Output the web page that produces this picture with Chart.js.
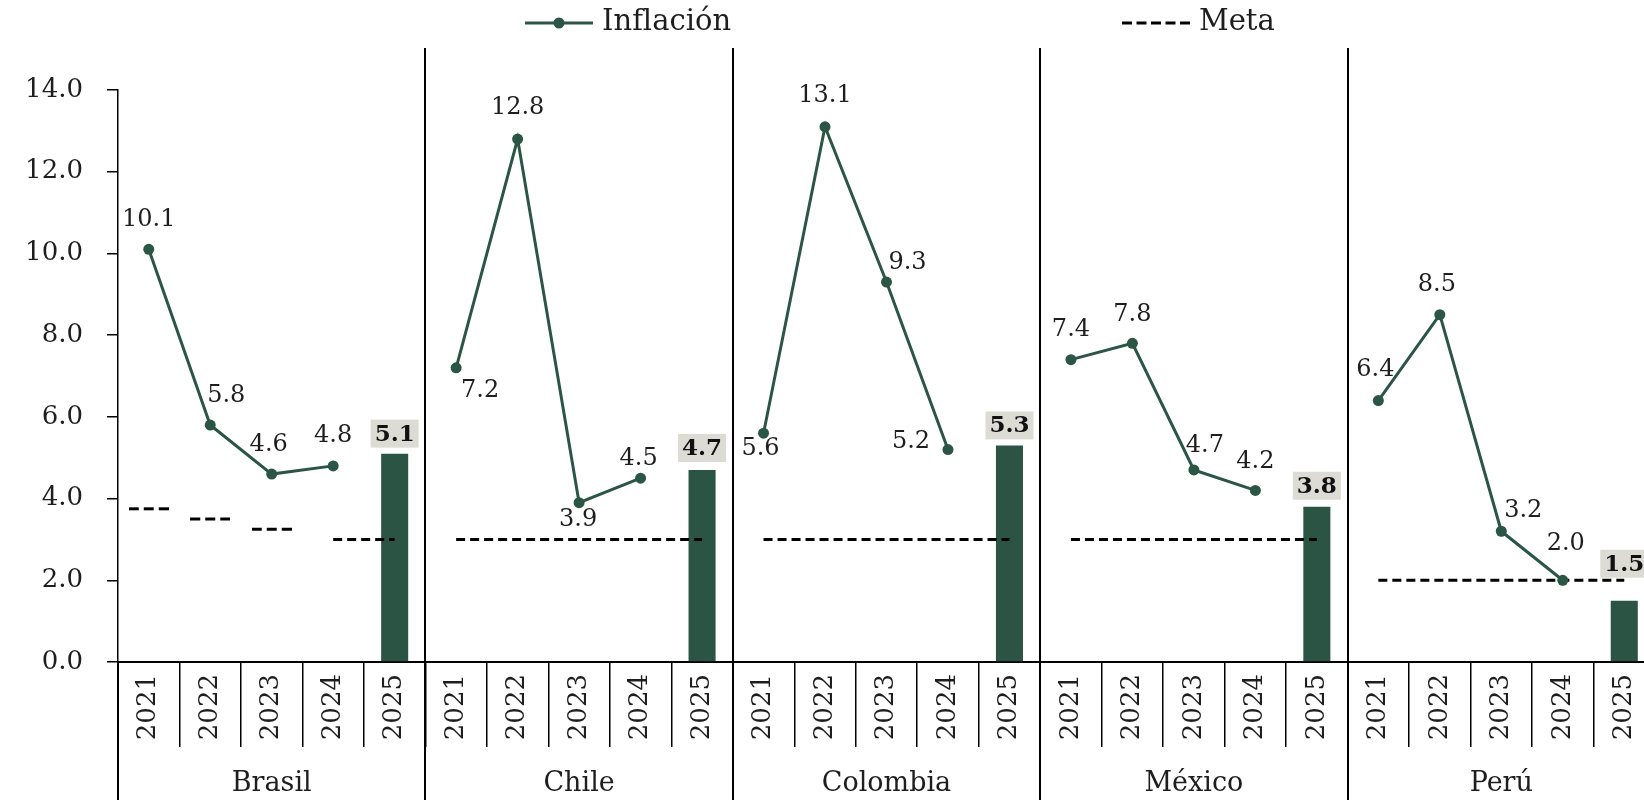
<!DOCTYPE html>
<html lang="es">
<head>
<meta charset="UTF-8">
<title>Inflación y meta 2021-2025</title>
<script src="https://cdn.jsdelivr.net/npm/chart.js@4.4.0/dist/chart.umd.min.js"></script>
<style>
    html, body { margin: 0; padding: 0; overflow: hidden; background: #fff; }
    #wrap { position: relative; width: 1644px; height: 800px; overflow: hidden; }
    #chart { position: absolute; left: 0; top: 0; display: block; width: 1678px; height: 800px; }
</style>
</head>
<body>
<div id="wrap"><canvas id="chart" width="1678" height="800"></canvas></div>
<script>
// datos
const years = ['2021', '2022', '2023', '2024', '2025'];
const countries = ['Brasil', 'Chile', 'Colombia', 'México', 'Perú'];

// inflación observada 2021-2024 (línea)
const inflBrasil   = [10.1, 5.8, 4.6, 4.8];
const inflChile    = [7.2, 12.8, 3.9, 4.5];
const inflColombia = [5.6, 13.1, 9.3, 5.2];
const inflMexico   = [7.4, 7.8, 4.7, 4.2];
const inflPeru     = [6.4, 8.5, 3.2, 2.0];

// 2025 (barra)
const infl2025 = [5.1, 4.7, 5.3, 3.8, 1.5];

// meta 2021-2025
const metaBrasil   = [3.75, 3.5, 3.25, 3.0, 3.0];
const metaChile    = [3, 3, 3, 3, 3];
const metaColombia = [3, 3, 3, 3, 3];
const metaMexico   = [3, 3, 3, 3, 3];
const metaPeru     = [2, 2, 2, 2, 2];

const yTicks = [0, 2, 4, 6, 8, 10, 12, 14];

// --- armado para Chart.js
const xLabels = countries.flatMap(() => years);
const inflAll = [inflBrasil, inflChile, inflColombia, inflMexico, inflPeru].flatMap(a => [...a, null]);
const barAll = infl2025.flatMap(v => [null, null, null, null, v]);
const metaAll = [metaBrasil, metaChile, metaColombia, metaMexico, metaPeru].flat();

const GREEN = '#2b5646';
const TXT = '#1e1e1e';
const SERIF = '"DejaVu Serif", serif';

// posición de las etiquetas de la línea (dx, dy respecto al punto)
const inflLabelOffsets = [
    [0, -30], [16, -29], [-3, -29], [0, -30],
    [24, 23], [0, -31], [-1, 17], [-2, -19],
    [-3, 16], [0, -31], [21, -19], [-37, -8],
    [0, -30], [0, -29], [11, -24], [0, -29],
    [-3, -31], [-3, -30], [22, -20], [3, -37]
];
const barLabelGaps = [6, 8, 6, 7, 23];

const sameGroup = (a, b) => Math.floor(a / years.length) === Math.floor(b / years.length);
const metaLinked = (a, b) => b >= 0 && b < metaAll.length && sameGroup(a, b) && metaAll[a] === metaAll[b];
const metaIsolated = i => !metaLinked(i, i - 1) && !metaLinked(i, i + 1);

function dashCanvas(len, dash, gap, lw, color) {
    const c = document.createElement('canvas');
    c.width = len; c.height = lw + 2;
    const g = c.getContext('2d');
    g.strokeStyle = color; g.lineWidth = lw; g.setLineDash([dash, gap]);
    g.beginPath(); g.moveTo(0, c.height / 2); g.lineTo(len, c.height / 2); g.stroke();
    return c;
}
const metaMark = dashCanvas(40, 10, 5, 3, '#000');

// separadores de países
const groupLines = {
    id: 'groupLines',
    afterDraw(chart) {
        const { ctx, chartArea } = chart;
        const x = chart.scales.x;
        ctx.save();
        ctx.strokeStyle = '#000';
        ctx.lineWidth = 2;
        for (let g = 0; g <= countries.length; g++) {
            const px = Math.round(x.getPixelForValue(g * years.length - 0.5));
            const top = g === 0 ? chartArea.bottom : 48;
            ctx.beginPath();
            ctx.moveTo(px, top);
            ctx.lineTo(px, chart.height);
            ctx.stroke();
        }
        ctx.restore();
    }
};

// etiquetas de valores
const valueLabels = {
    id: 'valueLabels',
    afterDatasetsDraw(chart) {
        const ctx = chart.ctx;
        ctx.save();
        ctx.textAlign = 'center';
        ctx.textBaseline = 'middle';

        // línea
        ctx.font = '24px ' + SERIF;
        ctx.fillStyle = TXT;
        let k = 0;
        chart.getDatasetMeta(0).data.forEach((pt, i) => {
            const v = inflAll[i];
            if (v === null) return;
            const off = inflLabelOffsets[k++] || [0, -30];
            ctx.fillText(v.toFixed(1), pt.x + off[0], pt.y + off[1]);
        });

        // barras
        ctx.font = 'bold 23px ' + SERIF;
        k = 0;
        chart.getDatasetMeta(2).data.forEach((bar, i) => {
            const v = barAll[i];
            if (v === null) return;
            const txt = v.toFixed(1);
            const w = ctx.measureText(txt).width + 8;
            const h = 28;
            const bottom = bar.y - barLabelGaps[k++];
            ctx.fillStyle = '#dcdcd5';
            ctx.fillRect(bar.x - w / 2, bottom - h, w, h);
            ctx.fillStyle = '#111';
            ctx.fillText(txt, bar.x, bottom - h / 2 + 1);
        });
        ctx.restore();
    }
};

// leyenda
const legendItems = [
    { text: 'Inflación', x: 525, kind: 'line' },
    { text: 'Meta', x: 1122, kind: 'dash' }
];
const customLegend = {
    id: 'customLegend',
    afterDraw(chart) {
        const ctx = chart.ctx;
        const y = 23;
        ctx.save();
        legendItems.forEach(it => {
            if (it.kind === 'line') {
                ctx.strokeStyle = GREEN; ctx.lineWidth = 3;
                ctx.beginPath(); ctx.moveTo(it.x, y); ctx.lineTo(it.x + 68, y); ctx.stroke();
                ctx.fillStyle = GREEN;
                ctx.beginPath(); ctx.arc(it.x + 34, y, 5.5, 0, Math.PI * 2); ctx.fill();
            } else {
                ctx.strokeStyle = '#000'; ctx.lineWidth = 3; ctx.setLineDash([10, 4.5]);
                ctx.beginPath(); ctx.moveTo(it.x, y); ctx.lineTo(it.x + 68, y); ctx.stroke();
                ctx.setLineDash([]);
            }
            ctx.fillStyle = TXT;
            ctx.font = '29px ' + SERIF;
            ctx.textAlign = 'left';
            ctx.textBaseline = 'middle';
            ctx.fillText(it.text, it.x + 77, y - 1);
        });
        ctx.restore();
    }
};

new Chart(document.getElementById('chart'), {
    data: {
        labels: xLabels,
        datasets: [
            {
                type: 'line',
                label: 'Inflación',
                data: inflAll,
                borderColor: GREEN,
                backgroundColor: GREEN,
                borderWidth: 3,
                pointRadius: 5.5,
                pointBackgroundColor: GREEN,
                pointBorderWidth: 0,
                spanGaps: false
            },
            {
                type: 'line',
                label: 'Meta',
                data: metaAll,
                borderColor: '#000',
                borderWidth: 3,
                borderDash: [9, 5],
                pointStyle: metaMark,
                pointRadius: ctx => metaIsolated(ctx.dataIndex) ? 20 : 0,
                pointHoverRadius: ctx => metaIsolated(ctx.dataIndex) ? 20 : 0,
                segment: {
                    borderColor: ctx => metaLinked(ctx.p0DataIndex, ctx.p1DataIndex) ? '#000' : 'rgba(0,0,0,0)'
                }
            },
            {
                type: 'bar',
                label: '2025',
                data: barAll,
                backgroundColor: '#2b5444',
                barPercentage: 0.44,
                categoryPercentage: 1
            }
        ]
    },
    options: {
        responsive: false,
        animation: false,
        layout: { padding: { top: 90, left: 0, right: 15, bottom: 4 } },
        plugins: {
            legend: { display: false },
            tooltip: { enabled: false }
        },
        scales: {
            x: {
                type: 'category',
                position: 'bottom',
                offset: true,
                grid: { offset: true, drawOnChartArea: false, drawTicks: true, tickLength: 85, color: '#000', lineWidth: 1.5 },
                border: { display: true, color: '#000', width: 2 },
                ticks: { autoSkip: false, minRotation: 90, maxRotation: 90, padding: -73, color: TXT, font: { family: SERIF, size: 26 } },
                afterFit: s => { s.height = 78; }
            },
            x2: {
                type: 'category',
                position: 'bottom',
                labels: countries,
                offset: true,
                grid: { display: false },
                border: { display: false },
                ticks: { padding: 20, color: TXT, font: { family: SERIF, size: 27 } },
                afterFit: s => { s.height = 56; }
            },
            y: {
                min: 0,
                max: 14,
                afterBuildTicks: s => { s.ticks = yTicks.map(v => ({ value: v })); },
                grid: { drawOnChartArea: false, drawTicks: true, tickLength: 11, color: '#000', lineWidth: 1.5 },
                border: { display: true, color: '#000', width: 1.5 },
                ticks: { padding: 24, color: TXT, font: { family: SERIF, size: 26 }, callback: v => v.toFixed(1) },
                afterFit: s => { s.width = 118; }
            }
        }
    },
    plugins: [groupLines, valueLabels, customLegend]
});
</script>
</body>
</html>
